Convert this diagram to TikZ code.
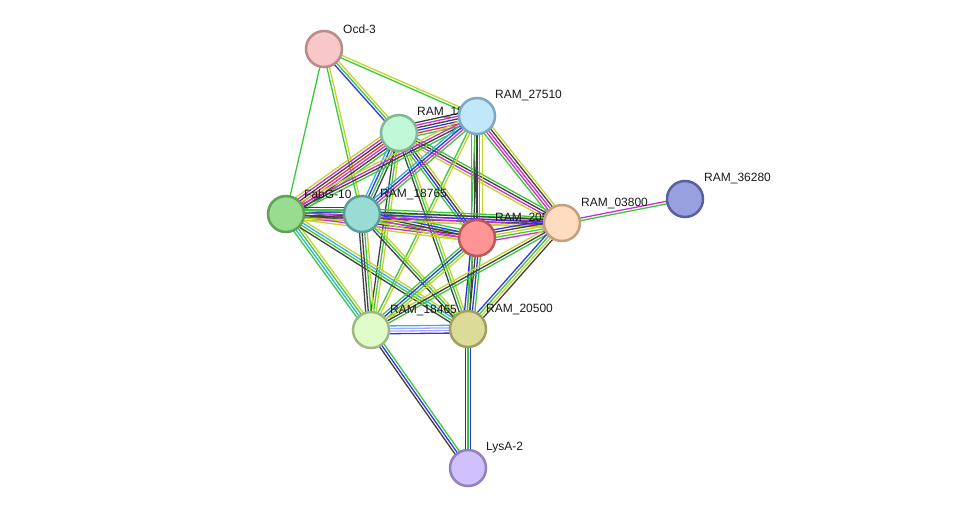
\documentclass[tikz,border=0pt]{standalone}
\usepackage{fontspec}
\setmainfont{Liberation Sans}
\usetikzlibrary{calc}

% evidence colours
\definecolor{nbr}{HTML}{3CC83C}
\definecolor{txt}{HTML}{C4D42C}
\definecolor{coex}{HTML}{404040}
\definecolor{cooc}{HTML}{3434F0}
\definecolor{expt}{HTML}{CC30CC}
\definecolor{db}{HTML}{30B4E0}
\definecolor{fus}{HTML}{F03434}
\definecolor{hom}{HTML}{A8A8F4}

% protein colours (rim, fill)
\definecolor{ocdR}{HTML}{B88A8A}  \definecolor{ocdF}{HTML}{F8C8C8}
\definecolor{mintR}{HTML}{80B898} \definecolor{mintF}{HTML}{C0F8D8}
\definecolor{skyR}{HTML}{80A8C4}  \definecolor{skyF}{HTML}{C0E8FA}
\definecolor{fabR}{HTML}{60A058}  \definecolor{fabF}{HTML}{98DC90}
\definecolor{tealR}{HTML}{5C9C98} \definecolor{tealF}{HTML}{98DCD4}
\definecolor{redR}{HTML}{B85858}  \definecolor{redF}{HTML}{FF9494}
\definecolor{peachR}{HTML}{C0A080} \definecolor{peachF}{HTML}{FFDCC0}
\definecolor{navyR}{HTML}{5860A0} \definecolor{navyF}{HTML}{98A0E0}
\definecolor{limeR}{HTML}{A0B888} \definecolor{limeF}{HTML}{E0FCC8}
\definecolor{oliveR}{HTML}{A0A060} \definecolor{oliveF}{HTML}{DCDC98}
\definecolor{lilacR}{HTML}{9080C0} \definecolor{lilacF}{HTML}{D0C0FC}

\pgfdeclarelayer{edges}
\pgfdeclarelayer{labels}
\pgfsetlayers{edges,labels,main}

\tikzset{
  prot/.style={circle,draw=#1R,fill=#1F,line width=2.5pt,minimum size=36pt,inner sep=0pt},
  lbl/.style={anchor=west,inner sep=0pt,font=\fontsize{12}{14}\selectfont,text=black!90}
}

% one strand per evidence channel, side by side
\newcommand\evlink[3]{%
  \foreach \c [count=\i] in {#3}{\global\let\nlink\i}%
  \foreach \c [count=\i] in {#3}{%
    \pgfmathsetmacro\off{(\i-(\nlink+1)/2)*2.6}%
    \draw[\c,line width=1.3pt] ($(#1)!\off pt!90:(#2)$) -- ($(#2)!\off pt!-90:(#1)$);
  }%
}

\begin{document}
\begin{tikzpicture}[x=1pt,y=-1pt,line cap=round]

\useasboundingbox (0,0) rectangle (976,514);

% --- proteins ---
\node[prot=ocd]   (ocd)  at (324,49)  {};
\node[prot=mint]  (r1)   at (399,133) {};
\node[prot=sky]   (r27)  at (477,116) {};
\node[prot=fab]   (fabg) at (286,214) {};
\node[prot=teal]  (r187) at (362,214) {};
\node[prot=red]   (r205) at (477,238) {};
\node[prot=peach] (r038) at (562,223) {};
\node[prot=navy]  (r362) at (685,199) {};
\node[prot=lime]  (r184) at (371,330) {};
\node[prot=olive] (r200) at (468,329) {};
\node[prot=lilac] (lysa) at (468,468) {};

% --- labels ---
\begin{pgfonlayer}{labels}
\node[lbl] at ([shift={(19,-20)}]ocd.center)  {Ocd-3};
\node[lbl] at ([shift={(18,-20)}]r1.center)   {RAM\_18715};
\node[lbl] at ([shift={(18,-20)}]r27.center)  {RAM\_27510};
\node[lbl] at ([shift={(18,-20)}]fabg.center) {FabG-10};
\node[lbl] at ([shift={(18,-20)}]r187.center) {RAM\_18765};
\node[lbl] at ([shift={(18,-20)}]r205.center) {RAM\_20505};
\node[lbl] at ([shift={(19,-20)}]r038.center) {RAM\_03800};
\node[lbl] at ([shift={(19,-20)}]r362.center) {RAM\_36280};
\node[lbl] at ([shift={(19,-20)}]r184.center) {RAM\_18465};
\node[lbl] at ([shift={(18,-20)}]r200.center) {RAM\_20500};
\node[lbl] at ([shift={(18,-20)}]lysa.center) {LysA-2};
\end{pgfonlayer}

% --- links ---
\begin{pgfonlayer}{edges}
\evlink{ocd}{r1}{cooc,nbr,txt}
\evlink{ocd}{r27}{nbr,txt}
\evlink{ocd}{fabg}{nbr}
\evlink{ocd}{r187}{nbr,txt}

\evlink{r1}{r27}{nbr,fus,cooc,coex,expt,coex}
\evlink{r1}{fabg}{txt,expt,coex,fus,expt,coex,nbr}
\evlink{r1}{r187}{db,cooc,nbr,coex}
\evlink{r1}{r205}{nbr,cooc,coex,txt}
\evlink{r1}{r038}{txt,expt,coex,nbr}
\evlink{r1}{r184}{coex,nbr,txt}
\evlink{r1}{r200}{coex,nbr,txt}

\evlink{r27}{fabg}{txt,expt,coex,nbr}
\evlink{r27}{r187}{db,cooc,expt,nbr}
\evlink{r27}{r205}{nbr,coex,coex,nbr,txt}
\evlink{r27}{r038}{nbr,expt,expt,coex,txt}
\evlink{r27}{r184}{nbr,txt}
\evlink{r27}{r200}{nbr,coex}

\evlink{fabg}{r187}{txt,expt,coex,cooc,nbr,coex}
\evlink{fabg}{r205}{txt,expt,coex,nbr}
\evlink{fabg}{r038}{txt,coex,expt,nbr}
\evlink{fabg}{r184}{nbr,db,nbr,txt}
\evlink{fabg}{r200}{coex,nbr,db,txt}

\evlink{r187}{r205}{txt,expt,coex,cooc,nbr}
\evlink{r187}{r038}{txt,expt,cooc,coex,nbr}
\evlink{r187}{r184}{coex,coex,nbr,txt}
\evlink{r187}{r200}{coex,nbr,txt}

\evlink{r205}{r038}{expt,nbr,txt,coex,cooc}
\evlink{r205}{r184}{nbr,cooc,nbr,txt}
\evlink{r205}{r200}{cooc,nbr,coex,cooc,nbr}

\evlink{r038}{r184}{txt,coex,nbr}
\evlink{r038}{r200}{cooc,nbr,txt,coex}
\evlink{r038}{r362}{nbr,expt}

\evlink{r184}{r200}{cooc,hom,hom,db}
\evlink{r184}{lysa}{coex,cooc,nbr}
\evlink{r200}{lysa}{coex,nbr,cooc}
\end{pgfonlayer}

\end{tikzpicture}
\end{document}
